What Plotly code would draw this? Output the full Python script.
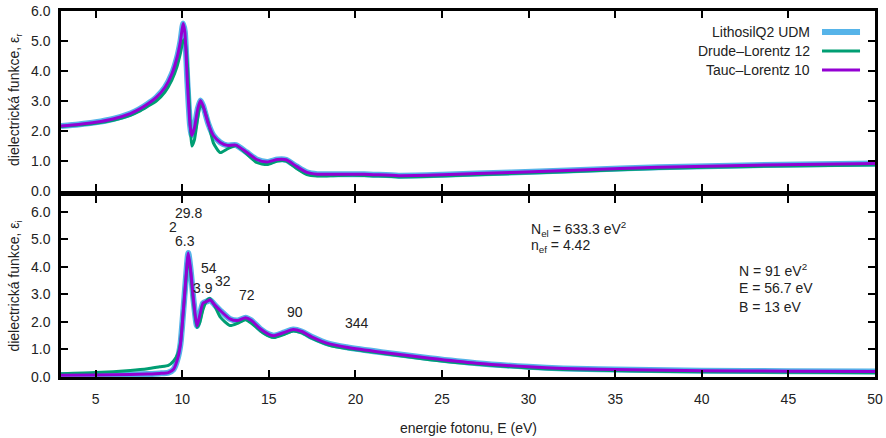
import plotly.graph_objects as go

# ---------------- data ----------------
E_r = [3.0, 4.0, 5.0, 6.0, 7.0, 7.5, 8.0, 8.5, 9.0, 9.4, 9.7, 9.9, 10.05, 10.15, 10.3, 10.45,
       10.55, 10.7, 10.9, 11.05, 11.2, 11.5, 11.8, 12.2, 12.6, 13.1, 13.7, 14.3, 14.9, 15.5,
       16.0, 16.6, 17.2, 17.8, 19.0, 20.5, 22.5, 25.0, 29.0, 33.0, 37.5, 43.0, 50.0]
eps_r_udm = [2.17, 2.22, 2.29, 2.40, 2.58, 2.72, 2.90, 3.12, 3.45, 3.90, 4.45, 5.00, 5.58, 5.30, 3.60, 2.20,
             1.85, 2.10, 2.75, 3.02, 2.85, 2.25, 1.85, 1.62, 1.52, 1.53, 1.30, 1.05, 0.97, 1.05,
             1.04, 0.82, 0.62, 0.56, 0.56, 0.56, 0.51, 0.54, 0.62, 0.70, 0.79, 0.86, 0.92]
eps_r_dl = [2.15, 2.20, 2.26, 2.36, 2.52, 2.65, 2.82, 3.00, 3.30, 3.70, 4.15, 4.60, 5.00, 5.05, 4.20, 2.40,
            1.50, 1.70, 2.45, 2.85, 2.80, 2.30, 1.60, 1.28, 1.40, 1.52, 1.25, 0.95, 0.88, 1.00,
            1.00, 0.75, 0.55, 0.50, 0.52, 0.52, 0.47, 0.50, 0.58, 0.66, 0.75, 0.82, 0.87]
eps_r_tl = list(eps_r_udm)

E_i = [3.0, 5.0, 7.0, 8.0, 8.7, 9.2, 9.5, 9.75, 9.9, 10.05, 10.2, 10.35, 10.5, 10.65, 10.85,
       11.0, 11.2, 11.45, 11.6, 11.9, 12.2, 12.75, 13.2, 13.65, 14.0, 14.5, 15.0, 15.3, 15.9,
       16.4, 16.9, 17.5, 18.5, 19.5, 21.5, 24.3, 27.0, 30.0, 32.0, 36.0, 40.0, 45.0, 50.0]
eps_i_udm = [0.06, 0.07, 0.09, 0.11, 0.13, 0.16, 0.28, 0.70, 1.20, 2.30, 3.50, 4.50, 3.80, 2.80, 1.85,
             2.20, 2.68, 2.75, 2.80, 2.60, 2.41, 2.11, 2.05, 2.15, 2.05, 1.75, 1.55, 1.50, 1.62,
             1.72, 1.65, 1.45, 1.20, 1.08, 0.90, 0.68, 0.50, 0.37, 0.31, 0.26, 0.23, 0.21, 0.20]
eps_i_dl = [0.12, 0.16, 0.24, 0.30, 0.37, 0.42, 0.58, 0.85, 1.25, 2.30, 3.40, 4.40, 3.70, 2.70, 1.80,
            1.95, 2.45, 2.80, 2.85, 2.55, 2.17, 1.87, 1.95, 2.08, 1.95, 1.68, 1.48, 1.43, 1.55,
            1.67, 1.60, 1.40, 1.15, 1.03, 0.86, 0.63, 0.46, 0.33, 0.27, 0.22, 0.19, 0.17, 0.15]
eps_i_tl = list(eps_i_udm)

series_names = ["LithosilQ2 UDM", "Drude\u2013Lorentz 12", "Tauc\u2013Lorentz 10"]
series_colors = ["#56b4e9", "#009e73", "#9400d3"]
series_widths = [6, 3, 3]

osc_labels = ["29.8", "2", "6.3", "54", "3.9", "32", "72", "90", "344"]
osc_E = [10.35, 9.45, 10.16, 11.55, 11.22, 12.34, 13.76, 16.51, 20.07]
osc_y = [5.95, 5.44, 4.92, 3.96, 3.24, 3.47, 2.96, 2.35, 1.95]

x_ticks = [5, 10, 15, 20, 25, 30, 35, 40, 45, 50]

FONT = "Liberation Sans, Arial, Helvetica, sans-serif"
TXT = dict(family=FONT, size=14, color="#222")

fig = go.Figure()
top = [eps_r_udm, eps_r_dl, eps_r_tl]
bot = [eps_i_udm, eps_i_dl, eps_i_tl]
for k in range(3):
    fig.add_trace(go.Scatter(x=E_r, y=top[k], mode="lines", name=series_names[k],
                             line=dict(color=series_colors[k], width=series_widths[k],
                                       shape="spline", smoothing=0.6),
                             xaxis="x", yaxis="y", showlegend=False))
for k in range(3):
    fig.add_trace(go.Scatter(x=E_i, y=bot[k], mode="lines", name=series_names[k],
                             line=dict(color=series_colors[k], width=series_widths[k],
                                       shape="spline", smoothing=0.6),
                             xaxis="x2", yaxis="y2", showlegend=False))

axis_common = dict(showline=True, linecolor="black", linewidth=2.5, mirror="ticks",
                   ticks="inside", ticklen=7, tickwidth=2, tickcolor="black",
                   showgrid=False, zeroline=False, automargin=False,
                   tickfont=TXT)

fig.update_layout(
    width=886, height=438,
    margin=dict(l=61, r=11, t=11, b=61, autoexpand=False),
    showlegend=False,
    plot_bgcolor="white", paper_bgcolor="white",
    font=TXT,
    xaxis=dict(domain=[0, 1], range=[3, 50], anchor="y", tickvals=x_ticks,
               showticklabels=False, **axis_common),
    yaxis=dict(domain=[0.5082, 1.0], range=[0, 6], anchor="x", dtick=1, tick0=0,
               tickformat=".1f", ticklabelstandoff=5, **axis_common),
    xaxis2=dict(domain=[0, 1], range=[3, 50], anchor="y2", tickvals=x_ticks,
                ticklabelstandoff=7, **axis_common),
    yaxis2=dict(domain=[0, 0.4932], range=[0, 6.55], anchor="x2", dtick=1, tick0=0,
                tickformat=".1f", ticklabelstandoff=5, **axis_common),
)

ann = []
# oscillator labels
for t, xe, ye in zip(osc_labels, osc_E, osc_y):
    ann.append(dict(x=xe, y=ye, xref="x2", yref="y2", text=t, showarrow=False,
                    xanchor="center", yanchor="middle", font=TXT))
# parameter texts
param_texts = ["N<sub>el</sub> = 633.3 eV<sup>2</sup>", "n<sub>ef</sub> = 4.42",
               "N = 91 eV<sup>2</sup>", "E = 56.7 eV", "B = 13 eV"]
param_x = [30.0, 30.0, 42.05, 42.05, 42.05]
param_y = [5.38, 4.74, 3.87, 3.24, 2.53]
for t, xe, ye in zip(param_texts, param_x, param_y):
    ann.append(dict(x=xe, y=ye, xref="x2", yref="y2", text=t, showarrow=False,
                    xanchor="left", yanchor="middle", font=TXT))
# axis titles
ann.append(dict(x=-0.0565, y=0.757, xref="paper", yref="paper", text="dielectrická funkce, ε<sub>r</sub>",
                showarrow=False, textangle=-90, xanchor="center", yanchor="middle", font=TXT))
ann.append(dict(x=-0.0565, y=0.247, xref="paper", yref="paper", text="dielectrická funkce, ε<sub>i</sub>",
                showarrow=False, textangle=-90, xanchor="center", yanchor="middle", font=TXT))
ann.append(dict(x=0.5, y=-0.139, xref="paper", yref="paper", text="energie fotonu, E (eV)",
                showarrow=False, xanchor="center", yanchor="middle", font=TXT))

# custom gnuplot-style legend (text right, sample on the right)
leg_y = [0.9426, 0.8907, 0.8388]
shapes = []
for k in range(3):
    ann.append(dict(x=0.9226, y=leg_y[k], xref="paper", yref="paper", text=series_names[k],
                    showarrow=False, xanchor="right", yanchor="middle", font=TXT))
    shapes.append(dict(type="line", xref="paper", yref="paper", x0=0.9349, x1=0.9816,
                       y0=leg_y[k], y1=leg_y[k],
                       line=dict(color=series_colors[k], width=series_widths[k])))

fig.update_layout(annotations=ann, shapes=shapes)
fig.write_html("out.html")
